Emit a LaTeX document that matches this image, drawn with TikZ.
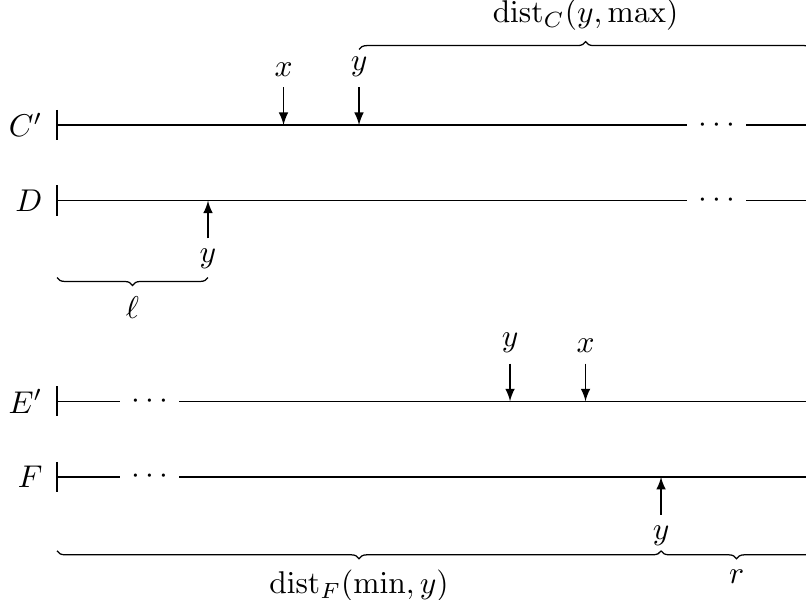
\documentclass[tikz,border=0pt]{standalone}
\usetikzlibrary{decorations.pathreplacing}
\begin{document}
\begin{tikzpicture}[x=24pt,y=24pt,
  ptr/.style={-latex},
  brc/.style={decorate,decoration={brace,amplitude=2.5pt}},
  brcm/.style={decorate,decoration={brace,amplitude=2.5pt,mirror}},
  rowlabel/.style={anchor=east,inner sep=0pt},
  dotsn/.style={inner sep=3.33pt},
]
\useasboundingbox (-0.755,-6.278) rectangle (9.92,1.656);

% ---- row C'
\coordinate (C0) at (0,0);
\coordinate (C0t) at (0,0.2);
\coordinate (C0b) at (0,-0.2);
\coordinate (C1) at (10,0);
\node[dotsn] (Cd) at (8.74,0) {$\cdots$};
\node[rowlabel] (Cl) at (-0.185,0) {$C'$};
\draw (C0t) -- (C0b);
\draw (C0) -- (Cd) -- (C1);
\coordinate (Cx) at (3,0);
\coordinate (Cy) at (4,0);
\node[anchor=south] (Cxl) at (3,0.5) {$x$};
\node[anchor=south] (Cyl) at (4,0.5) {$y$};
\draw[ptr] (Cxl.south) -- (Cx);
\draw[ptr] (Cyl.south) -- (Cy);
% brace dist_C
\coordinate (B1a) at (4,1.0);
\coordinate (B1b) at (10,1.0);
\draw[brc] (B1a) -- (B1b);
\node[anchor=south] (B1l) at (7,1.104) {$\mathrm{dist}_C(y,\max)$};

% ---- row D
\coordinate (D0) at (0,-1);
\coordinate (D0t) at (0,-0.8);
\coordinate (D0b) at (0,-1.2);
\coordinate (D1) at (10,-1);
\node[dotsn] (Dd) at (8.74,-1) {$\cdots$};
\node[rowlabel] (Dl) at (-0.185,-1) {$D$};
\draw (D0t) -- (D0b);
\draw (D0) -- (Dd) -- (D1);
\coordinate (Dy) at (2,-1);
\node[anchor=north] (Dyl) at (2,-1.5) {$y$};
\draw[ptr] (Dyl.north) -- (Dy);
% brace ell
\coordinate (B2a) at (0,-2.02);
\coordinate (B2b) at (2,-2.02);
\draw[brcm] (B2a) -- (B2b);
\node[anchor=north] (B2l) at (1,-2.124) {$\ell$};

% ---- row E'
\coordinate (E0) at (0,-3.66);
\coordinate (E0t) at (0,-3.46);
\coordinate (E0b) at (0,-3.86);
\coordinate (E1) at (10,-3.66);
\node[dotsn] (Ed) at (1.23,-3.66) {$\cdots$};
\node[rowlabel] (El) at (-0.185,-3.66) {$E'$};
\draw (E0t) -- (E0b);
\draw (E0) -- (Ed) -- (E1);
\coordinate (Ey) at (6,-3.66);
\coordinate (Ex) at (7,-3.66);
\node[anchor=south] (Eyl) at (6,-3.16) {$y$};
\node[anchor=south] (Exl) at (7,-3.16) {$x$};
\draw[ptr] (Eyl.south) -- (Ey);
\draw[ptr] (Exl.south) -- (Ex);

% ---- row F
\coordinate (F0) at (0,-4.66);
\coordinate (F0t) at (0,-4.46);
\coordinate (F0b) at (0,-4.86);
\coordinate (F1) at (10,-4.66);
\node[dotsn] (Fd) at (1.23,-4.66) {$\cdots$};
\node[rowlabel] (Fl) at (-0.185,-4.66) {$F$};
\draw (F0t) -- (F0b);
\draw (F0) -- (Fd) -- (F1);
\coordinate (Fy) at (8,-4.66);
\node[anchor=north] (Fyl) at (8,-5.16) {$y$};
\draw[ptr] (Fyl.north) -- (Fy);
% braces dist_F and r
\coordinate (B3a) at (0,-5.64);
\coordinate (B3b) at (8,-5.64);
\coordinate (B4b) at (10,-5.64);
\draw[brcm] (B3a) -- (B3b);
\draw[brcm] (B3b) -- (B4b);
\node[anchor=north] (B3l) at (4,-5.744) {$\mathrm{dist}_F(\min,y)$};
\node[anchor=north] (B4l) at (9,-5.744) {$r$};
\end{tikzpicture}
\end{document}
